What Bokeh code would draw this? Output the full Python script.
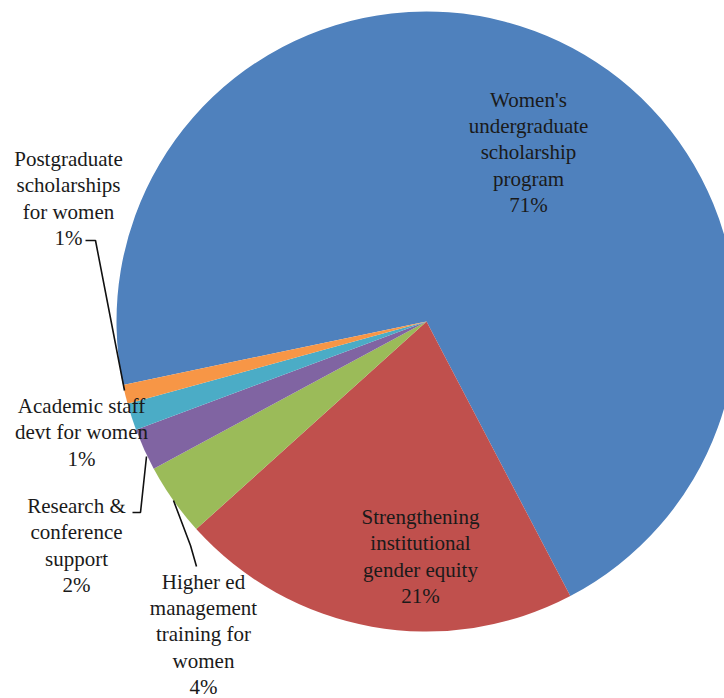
import math

from bokeh.core.properties import value
from bokeh.embed import file_html
from bokeh.models import ColumnDataSource, Range1d
from bokeh.plotting import figure
from bokeh.resources import INLINE

# --- data -------------------------------------------------------------
programs = [
    "Women's\nundergraduate\nscholarship\nprogram",
    "Strengthening\ninstitutional\ngender equity",
    "Higher ed\nmanagement\ntraining for\nwomen",
    "Research &\nconference\nsupport",
    "Academic staff\ndevt for women",
    "Postgraduate\nscholarships\nfor women",
]
shares = [70.6, 21.0, 3.8, 2.2, 1.4, 1.0]  # percent of total
colors = ["#4F81BD", "#C0504D", "#9BBB59", "#8064A2", "#4BACC6", "#F79646"]

# --- layout -----------------------------------------------------------
W, H = 724, 698
CX, CY = 426, H - 321  # pie centre (y measured upward)
RADIUS = 310
FIRST_SLICE_DEG = 258.2  # clockwise from 12 o'clock

# label block centres (x, y from the top edge)
label_pos = [(528, 152), (420, 556), (203, 634), (76, 545), (81, 432), (68, 198)]

# leader lines (x list, y list from the top edge)
leaders = [
    ([85, 95, 124], [240, 240, 390]),       # postgraduate
    ([132, 140, 146], [512, 512, 456]),     # research & conference
    ([173, 190, 196], [500, 545, 566]),     # higher ed management
]

# --- wedges -----------------------------------------------------------
total = sum(shares)
starts, ends = [], []
acc = FIRST_SLICE_DEG
for s in shares:
    a0 = acc
    a1 = acc + 360.0 * s / total
    starts.append(math.radians(90.0 - a0))
    ends.append(math.radians(90.0 - a1))
    acc = a1

src = ColumnDataSource(dict(start=starts, end=ends, color=colors))

p = figure(
    width=W, height=H,
    x_range=Range1d(0, W), y_range=Range1d(0, H),
    output_backend="svg", toolbar_location=None,
    min_border=0,
)
p.axis.visible = False
p.grid.visible = False
p.outline_line_color = None
p.background_fill_color = "white"
p.border_fill_color = "white"

p.wedge(x=CX, y=CY, radius=RADIUS, start_angle="start", end_angle="end",
        direction="clock", fill_color="color", line_color=None, source=src)

for xs, ys in leaders:
    p.line(xs, [H - y for y in ys], line_color="#111111", line_width=1.6)

texts = [f"{name}\n{round(s)}%" for name, s in zip(programs, shares)]
p.text(
    x=[x for x, _ in label_pos], y=[H - y for _, y in label_pos], text=texts,
    text_font=value("Liberation Serif"), text_font_size="21px",
    text_color="#1a1a1a", text_align="center", text_baseline="middle",
    text_line_height=1.1,
)

open("out.html", "w").write(file_html(p, INLINE))
